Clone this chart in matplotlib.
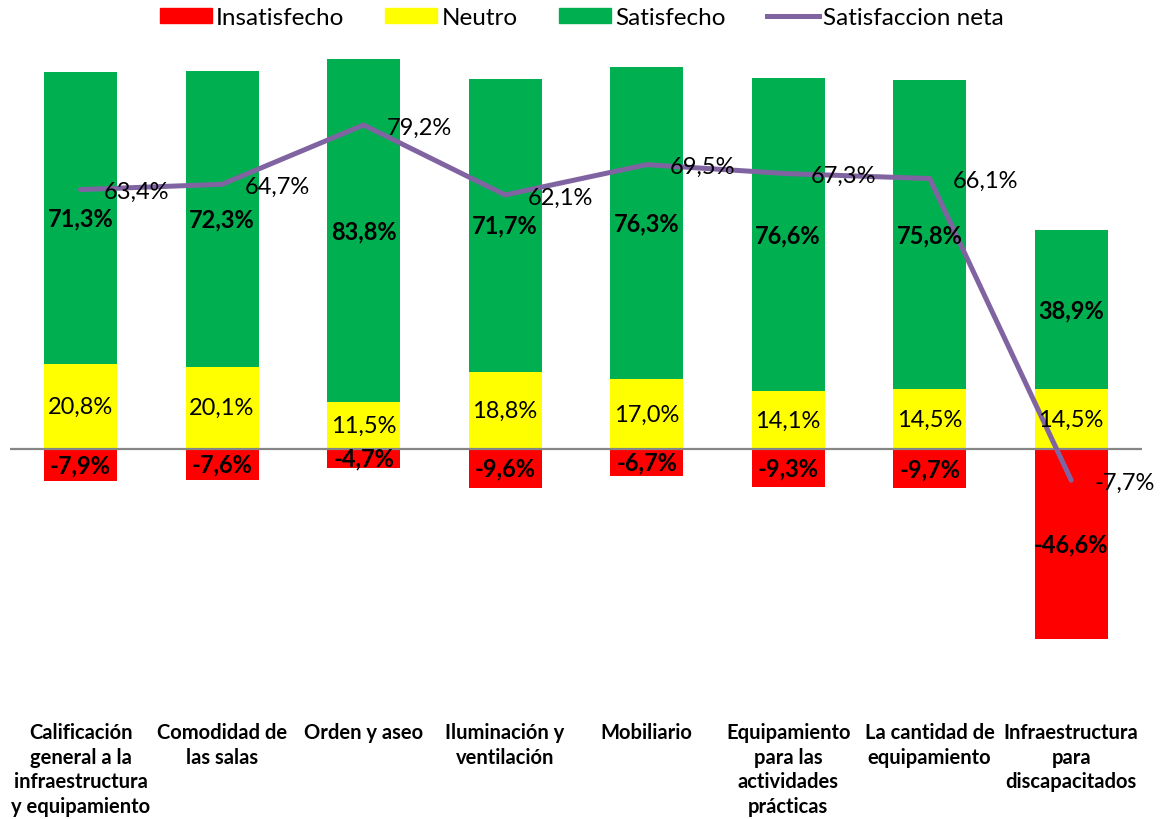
import matplotlib.pyplot as plt
from matplotlib.lines import Line2D
from matplotlib.patches import Patch

plt.rcParams['font.family'] = ['Lato', 'DejaVu Sans']

# Survey results per item (%)
categorias = [
    "Calificación\ngeneral a la\ninfraestructura\ny equipamiento",
    "Comodidad de\nlas salas",
    "Orden y aseo",
    "Iluminación y\nventilación",
    "Mobiliario",
    "Equipamiento\npara las\nactividades\nprácticas",
    "La cantidad de\nequipamiento",
    "Infraestructura\npara\ndiscapacitados",
]
insatisfecho = [-7.9, -7.6, -4.7, -9.6, -6.7, -9.3, -9.7, -46.6]
neutro = [20.8, 20.1, 11.5, 18.8, 17.0, 14.1, 14.5, 14.5]
satisfecho = [71.3, 72.3, 83.8, 71.7, 76.3, 76.6, 75.8, 38.9]
satisfaccion_neta = [63.4, 64.7, 79.2, 62.1, 69.5, 67.3, 66.1, -7.7]

ROJO = "#FF0000"
AMARILLO = "#FFFF00"
VERDE = "#00B050"
MORADO = "#8064A2"


def pct(v):
    return f"{v:.1f}%".replace(".", ",")


fig = plt.figure(figsize=(11.61, 8.2), dpi=100)
ax = fig.add_axes([0.0084, 0.1525, 0.9752, 0.7975])

x = list(range(len(categorias)))
w = 0.516

ax.bar(x, insatisfecho, w, color=ROJO)
ax.bar(x, neutro, w, color=AMARILLO)
ax.bar(x, satisfecho, w, bottom=neutro, color=VERDE)
ax.axhline(0, color="#868686", lw=1.6, zorder=3)
ax.plot(x, satisfaccion_neta, color=MORADO, lw=3.6, zorder=4,
        solid_capstyle="round", solid_joinstyle="miter")

fs = 17
for i in x:
    ax.text(i, insatisfecho[i] / 2, pct(insatisfecho[i]), ha="center",
            va="center", fontsize=fs, fontweight="bold", zorder=5)
    ax.text(i, neutro[i] / 2, pct(neutro[i]), ha="center", va="center",
            fontsize=fs, zorder=5)
    ax.text(i, neutro[i] + satisfecho[i] / 2, pct(satisfecho[i]),
            ha="center", va="center", fontsize=fs, fontweight="bold", zorder=5)
    ax.annotate(pct(satisfaccion_neta[i]), (i, satisfaccion_neta[i]),
                xytext=(16.5, -1.5), textcoords="offset points",
                ha="left", va="center", fontsize=fs, zorder=5)
    # category names sit in a block under the hidden axis floor
    ax.text(i, -66.8, categorias[i], ha="center", va="top", fontsize=14.5,
            fontweight="bold", linespacing=1.3)

ax.set_xlim(-0.5, len(categorias) - 0.5)
ax.set_ylim(-60, 100)
ax.axis("off")

handles = [
    Patch(color=ROJO, label="Insatisfecho"),
    Patch(color=AMARILLO, label="Neutro"),
    Patch(color=VERDE, label="Satisfecho"),
    Line2D([], [], color=MORADO, lw=3.6, label="Satisfaccion neta"),
]
fig.legend(handles=handles, loc="center", bbox_to_anchor=(0.501, 0.977),
           ncol=4, frameon=False, fontsize=17.5, handlelength=2.14,
           handleheight=0.56, handletextpad=0.17, columnspacing=1.7)

fig.savefig("out.png", dpi=100)
